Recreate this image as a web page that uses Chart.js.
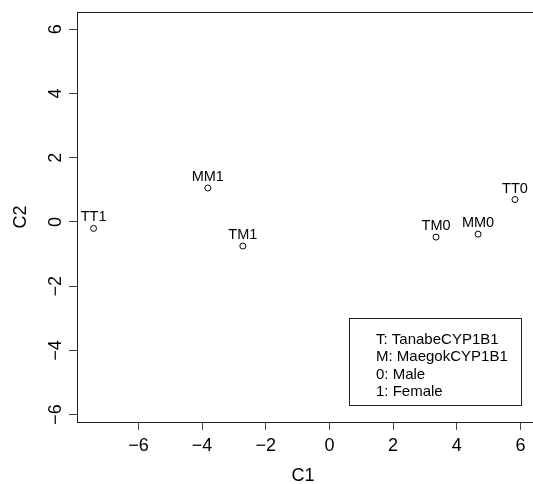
<!DOCTYPE html>
<html>
<head>
<meta charset="utf-8">
<script src="https://cdn.jsdelivr.net/npm/chart.js@4"></script>
<style>
  html, body { margin: 0; padding: 0; background: #fff; overflow: hidden; }
  #wrap { width: 533px; height: 484px; position: relative; }
</style>
</head>
<body>
<div id="wrap"><canvas id="pca"></canvas></div>
<script>
// sample labels and their coordinates on the first two components
const sampleLabels = ["TT1", "MM1", "TM1", "TM0", "MM0", "TT0"];
const c1Values = [-7.41, -3.82, -2.72, 3.35, 4.67, 5.83];
const c2Values = [-0.20, 1.06, -0.75, -0.47, -0.38, 0.70];

const xTicks = [-6, -4, -2, 0, 2, 4, 6];
const yTicks = [-6, -4, -2, 0, 2, 4, 6];

const legendLines = ["T: TanabeCYP1B1", "M: MaegokCYP1B1", "0: Male", "1: Female"];

const FONT = "'Liberation Sans', Arial, Helvetica, sans-serif";

const fmt = (v) => (v < 0 ? "\u2212" + Math.abs(v) : String(v));

// box around plot + point labels + legend
const extras = {
	id: "extras",
	afterDatasetsDraw(chart) {
		const { ctx, chartArea } = chart;
		ctx.save();

		// point labels, above each point
		ctx.font = "14.5px " + FONT;
		ctx.fillStyle = "#000";
		ctx.textAlign = "center";
		ctx.textBaseline = "alphabetic";
		const meta = chart.getDatasetMeta(0);
		meta.data.forEach((pt, i) => {
			ctx.fillText(sampleLabels[i], pt.x, pt.y - 7);
		});

		// plot box
		ctx.strokeStyle = "#222";
		ctx.lineWidth = 1;
		ctx.strokeRect(chartArea.left + 0.5, chartArea.top + 0.5,
			chartArea.right - chartArea.left + 5, chartArea.bottom - chartArea.top);

		// legend (bottom right)
		const lx = chartArea.right - 180;
		const ly = chartArea.bottom - 104;
		const lw = 172;
		const lh = 87;
		ctx.fillStyle = "#fff";
		ctx.fillRect(lx, ly, lw, lh);
		ctx.strokeRect(lx + 0.5, ly + 0.5, lw, lh);
		ctx.fillStyle = "#000";
		ctx.font = "15px " + FONT;
		ctx.textAlign = "left";
		ctx.textBaseline = "middle";
		legendLines.forEach((t, i) => {
			ctx.fillText(t, lx + 27, ly + 22 + i * 17.3);
		});
		ctx.restore();
	},
};

new Chart(document.getElementById("pca"), {
	type: "scatter",
	data: {
		datasets: [
			{
				data: c1Values.map((x, i) => ({ x: x, y: c2Values[i] })),
				pointStyle: "circle",
				pointRadius: 3,
				pointHoverRadius: 3,
				backgroundColor: "rgba(0,0,0,0)",
				borderColor: "#000",
				borderWidth: 1,
			},
		],
	},
	options: {
		responsive: true,
		maintainAspectRatio: false,
		animation: false,
		events: [],
		layout: { padding: { top: 12, right: 0, left: 0, bottom: 0 } },
		plugins: {
			legend: { display: false },
			tooltip: { enabled: false },
		},
		scales: {
			x: {
				type: "linear",
				min: -7.93,
				max: 6.27,
				afterBuildTicks: (scale) => {
					scale.ticks = xTicks.map((v) => ({ value: v }));
				},
				afterFit: (scale) => {
					scale.height = 62;
					scale.paddingLeft = 0;
					scale.paddingRight = 0;
				},
				border: { display: false },
				grid: {
					display: true,
					drawOnChartArea: false,
					drawTicks: true,
					tickLength: 8,
					color: "#444",
				},
				ticks: {
					autoSkip: false,
					maxRotation: 0,
					padding: 5,
					color: "#000",
					font: { family: FONT, size: 18 },
					callback: (v) => fmt(v),
				},
				title: {
					display: true,
					text: "C1",
					color: "#000",
					font: { family: FONT, size: 18, lineHeight: 1 },
					padding: { top: 0, bottom: -1 },
				},
			},
			y: {
				type: "linear",
				min: -6.23,
				max: 6.54,
				afterBuildTicks: (scale) => {
					scale.ticks = yTicks.map((v) => ({ value: v }));
				},
				afterFit: (scale) => {
					scale.width = 77;
					scale.paddingTop = 0;
					scale.paddingBottom = 0;
				},
				border: { display: false },
				grid: {
					display: true,
					drawOnChartArea: false,
					drawTicks: true,
					tickLength: 8,
					color: "#444",
				},
				ticks: {
					autoSkip: false,
					minRotation: 90,
					maxRotation: 90,
					crossAlign: "center",
					padding: 3,
					color: "#000",
					font: { family: FONT, size: 18 },
					callback: (v) => fmt(v),
				},
				title: {
					display: true,
					text: "C2",
					color: "#000",
					font: { family: FONT, size: 18, lineHeight: 1 },
					padding: { top: 12, bottom: 0 },
				},
			},
		},
	},
	plugins: [extras],
});
</script>
</body>
</html>
